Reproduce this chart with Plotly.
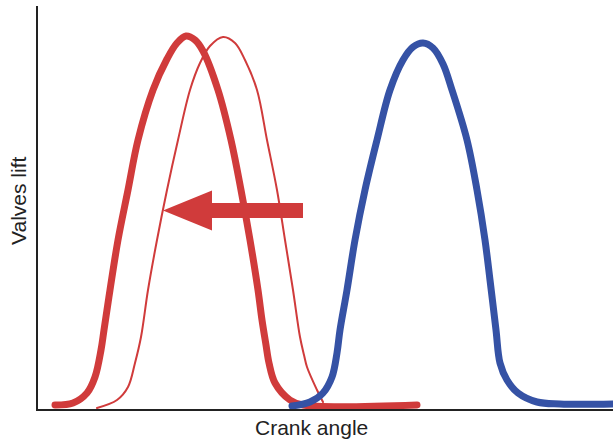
import plotly.graph_objects as go

# Crank angle (arbitrary units) and valve lift (arbitrary units)
red_adv_x = [55, 73, 87, 95, 101, 104, 110, 118, 128, 138, 153, 167, 177, 186, 195, 203,
             218, 231, 241, 250, 258, 262, 266, 269, 275, 290, 303, 417]
red_adv_y = [4, 6, 16, 32, 59, 79, 119, 169, 219, 269, 319, 350, 366, 373, 369, 358,
             319, 269, 219, 169, 119, 89, 64, 46, 26, 9, 4, 4]

red_orig_x = [97, 117, 128, 135, 141, 148, 157, 167, 178, 190, 200, 210, 223, 235, 245,
              257, 267, 277, 285, 293, 300, 304, 307, 317, 323]
red_orig_y = [1, 9, 22, 46, 72, 119, 169, 219, 269, 319, 346, 363, 372, 366, 349,
              319, 269, 219, 169, 119, 72, 54, 42, 19, 7]

blue_x = [292, 310, 323, 332, 337, 340, 347, 355, 365, 377, 390, 403, 413, 423, 433, 443,
          452, 467, 477, 485, 490, 496, 500, 507, 518, 537, 560, 613]
blue_y = [3, 7, 16, 32, 56, 79, 119, 169, 219, 269, 319, 349, 362, 366, 361, 345,
          319, 269, 219, 169, 129, 79, 46, 29, 16, 7, 5, 5]

# Arrow (shift direction)
arrow_tip_x = 163
arrow_head_base_x = 212
arrow_tail_x = 303
arrow_y = 198.5
arrow_shaft_half = 7.5
arrow_head_half = 20

RED = "#d03b3b"
BLUE = "#3552a5"
SMOOTH = 1.0

fig = go.Figure()
fig.add_trace(go.Scatter(x=red_orig_x, y=red_orig_y, mode="lines",
                         line=dict(color=RED, width=2, shape="spline", smoothing=SMOOTH),
                         hoverinfo="skip", showlegend=False))
fig.add_trace(go.Scatter(x=red_adv_x, y=red_adv_y, mode="lines",
                         line=dict(color=RED, width=7, shape="spline", smoothing=SMOOTH),
                         hoverinfo="skip", showlegend=False))
fig.add_trace(go.Scatter(x=blue_x, y=blue_y, mode="lines",
                         line=dict(color=BLUE, width=7, shape="spline", smoothing=SMOOTH),
                         hoverinfo="skip", showlegend=False))

ax = [arrow_tip_x, arrow_head_base_x, arrow_head_base_x, arrow_tail_x, arrow_tail_x,
      arrow_head_base_x, arrow_head_base_x, arrow_tip_x]
ay = [arrow_y, arrow_y + arrow_head_half, arrow_y + arrow_shaft_half, arrow_y + arrow_shaft_half,
      arrow_y - arrow_shaft_half, arrow_y - arrow_shaft_half, arrow_y - arrow_head_half, arrow_y]
fig.add_trace(go.Scatter(x=ax, y=ay, mode="lines", fill="toself", fillcolor=RED,
                         line=dict(color=RED, width=0), hoverinfo="skip", showlegend=False))

W, H = 613, 440
l, r, t, b = 38, 0, 6, 31
pw, ph = W - l - r, H - t - b

def px_to_paper(xp, yp):
    return (xp - l) / pw, (H - b - yp) / ph

cx, cy = px_to_paper(311, 427)
vx, vy = px_to_paper(18, 201)

fig.update_layout(
    width=W, height=H,
    margin=dict(l=l, r=r, t=t, b=b),
    paper_bgcolor="white", plot_bgcolor="white",
    font=dict(family="Liberation Sans, Arial, sans-serif", color="#222"),
    xaxis=dict(range=[38, 613], showgrid=False, zeroline=False, showticklabels=False,
               ticks="", showline=True, linecolor="#222", linewidth=1.5, fixedrange=True),
    yaxis=dict(range=[0, 403], showgrid=False, zeroline=False, showticklabels=False,
               ticks="", showline=True, linecolor="#222", linewidth=1.5, fixedrange=True),
    annotations=[
        dict(text="Crank angle", x=cx, y=cy, xref="paper", yref="paper", showarrow=False,
             font=dict(size=21, color="#222"), xanchor="center", yanchor="middle"),
        dict(text="Valves lift", x=vx, y=vy, xref="paper", yref="paper", showarrow=False,
             font=dict(size=21, color="#222"), textangle=-90, xanchor="center", yanchor="middle"),
    ],
)

post = """
document.body.style.margin='0';
document.body.style.overflow='hidden';
document.querySelectorAll('.scatterlayer path.js-line').forEach(function(p){
  p.style.strokeLinecap='round'; p.style.strokeLinejoin='round';
});
"""
fig.write_html("out.html", post_script=post, config={"displayModeBar": False})
